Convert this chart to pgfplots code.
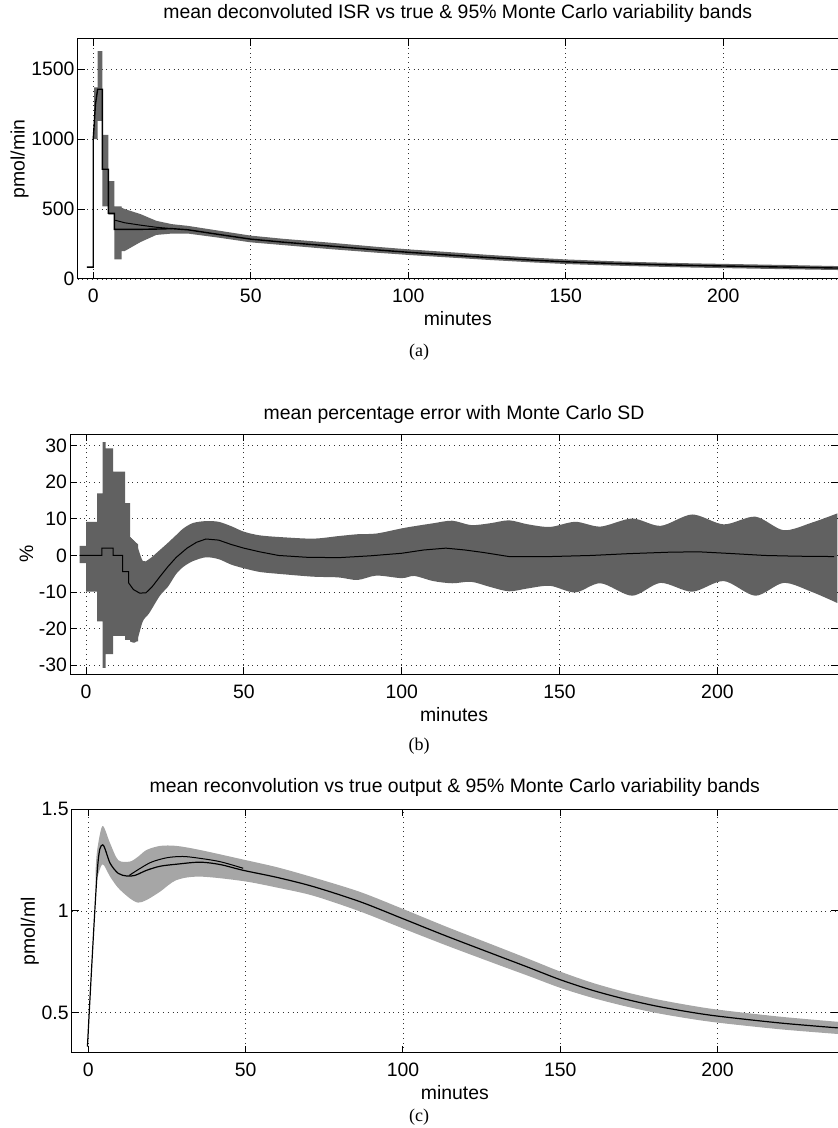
\documentclass[border=0pt]{standalone}
\usepackage{fontspec}
\setmainfont{Liberation Sans}
\newfontfamily\serif{Liberation Serif}
\usepackage{pgfplots}
\pgfplotsset{compat=1.18}
\usepackage{pgfplotstable}
\usepgfplotslibrary{fillbetween}
\newcommand\fsz{\fontsize{9.7}{11}\selectfont}

\pgfplotstableread{
x y
-2 85
0 85
0 1000
0.7 1250
1.4 1357
2.9 1357
2.9 785
4.8 785
4.8 470
6.7 470
6.7 355
15 355
20 357
25 360
30 352
40 318
50 285
60 264
75 236
90 208
100 191
115 168
125 154
140 134
150 123
165 111
175 105
190 97
200 93
220 85
237 78
}\isrmean

\pgfplotstableread{
x y
7 420
10 402
15 385
20 370
25 360
}\isrtrue

\pgfplotstableread{
x lo hi
0.3 1000 1370
1.4 1000 1370
1.4 1130 1630
2.9 1130 1630
2.9 520 1030
4.8 520 1030
4.8 460 700
6.7 460 700
6.7 140 520
9 140 520
9 200 510
10 200 500
15 264 464
20 315 416
25 325 392
30 325 380
40 295 345
50 262 310
60 243 288
75 214 260
90 188 230
100 172 212
115 151 189
125 137 173
140 118 152
150 107 140
165 96 127
175 90 120
190 82 112
200 78 108
220 70 100
237 64 92
}\isrband

\pgfplotstableread{
x y
-2 0
5 0
5 2
8.6 2
8.6 0
11.6 0
11.6 -4.4
13.5 -4.4
13.5 -7.5
15 -9.3
17 -10.3
19 -10.2
21 -8.5
23.4 -5.8
26 -3
28.6 -0.5
32 2
35 3.6
38 4.5
42 4.2
46 3
50 2
55 1
61 0
70 -0.5
80 -0.6
90 -0.1
100 0.6
107 1.5
114 2
120 1.5
126 0.8
134 -0.3
147 -0.3
160 0
172 0.5
185 0.9
194 1
205 0.5
215 0
225 -0.2
237 -0.3
}\errmean

\pgfplotstableread{
x lo hi
-2 -2.1 2.6
0 -2.1 2.6
0 -9.9 9.2
3.5 -9.9 9.2
3.5 -18 17
5.3 -18 17
5.3 -30.7 31
6.2 -30.7 31
6.2 -27 29.3
8.6 -27 29.3
8.6 -22 22.9
12.4 -22 22.9
12.4 -23.1 14.3
14 -23.1 14.3
14 -23.5 5
16.5 -23.5 3
}\errbandA

\pgfplotstableread{
x lo hi
14 -23.5 5
16 -23.5 3
18 -18 -1.5
20 -15.8 -1
23.4 -11 1.5
26 -8.5 3.5
28.6 -5 5.6
31 -3 7.5
34 -1.5 8.9
38 -0.5 9.4
42 -1 9.2
46 -2.5 8
50 -3.5 6.5
55 -4.5 5.5
62 -5.1 5
72 -5.8 4.6
80 -6 5.3
86 -6.7 5.8
92 -5.5 6
100 -6.2 7.4
104 -5.6 8
110 -7 8.8
116 -7.6 9.5
122 -7.2 8.3
128 -8.6 8.8
134 -9.8 9.6
140 -9 8.5
147 -8.3 7.8
155 -10.1 9.2
163 -7.6 7.9
173 -11 10.1
182 -7.5 8.1
192 -9.9 11.2
202 -7 8.5
212 -11 10.6
221 -7.5 6.9
230 -10 9
238 -13 11.5
}\errbandB

\pgfplotstableread{
x y
-0.3 0.333
2.8 1.19
4.5 1.325
6.9 1.235
9.5 1.185
12.2 1.172
14.8 1.175
18.5 1.20
22.8 1.22
28 1.23
35.5 1.24
42 1.228
49.2 1.20
60 1.165
71.5 1.12
86.3 1.046
100 0.962
113.9 0.876
129.8 0.782
140 0.722
150 0.662
160 0.611
170 0.569
180 0.534
190 0.506
200 0.483
220 0.449
238.3 0.425
}\recmean

\pgfplotstableread{
x y
13 1.175
16 1.205
20 1.24
25 1.262
30 1.268
35 1.26
42 1.242
49.2 1.21
}\rectrue

\pgfplotstableread{
x lo hi
2.3 1.10 1.20
2.8 1.16 1.30
4.5 1.23 1.418
6.9 1.169 1.333
9.5 1.113 1.25
13.2 1.062 1.243
15.8 1.041 1.267
18.5 1.054 1.30
22.8 1.095 1.32
28 1.152 1.32
35.5 1.169 1.30
49.2 1.147 1.253
60 1.115 1.215
71.5 1.075 1.165
86.3 0.998 1.094
100 0.914 1.010
113.9 0.830 0.922
129.8 0.738 0.826
140 0.680 0.764
150 0.622 0.702
160 0.574 0.648
170 0.534 0.604
180 0.500 0.568
190 0.473 0.539
200 0.451 0.515
220 0.418 0.480
238.3 0.395 0.455
}\recband

\pgfplotsset{
  mstyle/.style={
    scale only axis,
    axis line style={line width=0.5pt},
    tick align=inside,
    major tick length=3.5pt,
    tick style={black, line width=0.5pt},
    xtick={0,50,100,150,200},
    grid=major,
    major grid style={dotted, black!80, line width=0.4pt},
    ticklabel style={font=\fsz},
    label style={font=\fsz},
    every axis title/.style={font=\fsz, at={(0.5,1)}, anchor=base},
    /pgf/number format/assume math mode=true,
    /pgf/number format/1000 sep={},
    xticklabel style={anchor=base, yshift=-12pt},
    yticklabel style={xshift=2pt},
    xlabel style={at={(axis description cs:0.5,0)}, anchor=base, yshift=-23.5pt},
    scaled y ticks=false,
    xlabel={minutes},
  }
}

\begin{document}
\begin{tikzpicture}

% (a)
\begin{axis}[mstyle, at={(38.75pt,-19.5pt)}, anchor=north west,
  width=380.25pt, height=120pt,
  xmin=-5, xmax=236.4, ymin=0, ymax=1716,
  ytick={0,500,1000,1500},
  title style={yshift=10pt},
  title={mean deconvoluted ISR vs true \& 95\% Monte Carlo variability bands},
  ylabel shift=-5.5pt,
  ylabel={pmol/min}]
  \addplot[name path=ahi, draw=none] table[x=x, y=hi] {\isrband};
  \addplot[name path=alo, draw=none] table[x=x, y=lo] {\isrband};
  \addplot[black!60] fill between[of=ahi and alo];
  \addplot[black, line width=0.5pt] table[x=x, y=y] {\isrtrue};
  \addplot[black, line width=0.7pt] table[x=x, y=y] {\isrmean};
\end{axis}
\node[font=\serif\fontsize{9}{10}\selectfont] at (209.5pt,-176pt) {(a)};

% (b)
\begin{axis}[mstyle, at={(35pt,-217pt)}, anchor=north west,
  width=384pt, height=120pt,
  xmin=-5.07, xmax=238.2, ymin=-32.4, ymax=33.2,
  ytick={-30,-20,-10,0,10,20,30},
  title style={yshift=7.5pt},
  title={mean percentage error with Monte Carlo SD},
  ylabel shift=-4pt,
  ylabel={\%}]
  \addplot[name path=bhiA, draw=none] table[x=x, y=hi] {\errbandA};
  \addplot[name path=bloA, draw=none] table[x=x, y=lo] {\errbandA};
  \addplot[black!62] fill between[of=bhiA and bloA];
  \addplot[name path=bhiB, draw=none, smooth] table[x=x, y=hi] {\errbandB};
  \addplot[name path=bloB, draw=none, smooth] table[x=x, y=lo] {\errbandB};
  \addplot[black!62] fill between[of=bhiB and bloB];
  \addplot[black, line width=0.5pt] table[x=x, y=y] {\errmean};
\end{axis}
\node[font=\serif\fontsize{9}{10}\selectfont] at (209.5pt,-373pt) {(b)};

% (c)
\begin{axis}[mstyle, at={(35.85pt,-404.65pt)}, anchor=north west,
  width=383.15pt, height=121.8pt,
  xmin=-5.3, xmax=238.3, ymin=0.302, ymax=1.5,
  ytick={0.5,1,1.5},
  title style={yshift=8.5pt},
  title={mean reconvolution vs true output \& 95\% Monte Carlo variability bands},
  ylabel shift=-5.5pt,
  ylabel={pmol/ml}]
  \addplot[name path=chi, draw=none, smooth] table[x=x, y=hi] {\recband};
  \addplot[name path=clo, draw=none, smooth] table[x=x, y=lo] {\recband};
  \addplot[black!35] fill between[of=chi and clo];
  \addplot[black, line width=0.5pt, smooth] table[x=x, y=y] {\rectrue};
  \addplot[black, line width=0.6pt, smooth] table[x=x, y=y] {\recmean};
\end{axis}
\node[font=\serif\fontsize{9}{10}\selectfont] at (209.5pt,-558.5pt) {(c)};

\pgfresetboundingbox
\path (0,0) rectangle (419pt,-564pt);
\end{tikzpicture}
\end{document}
